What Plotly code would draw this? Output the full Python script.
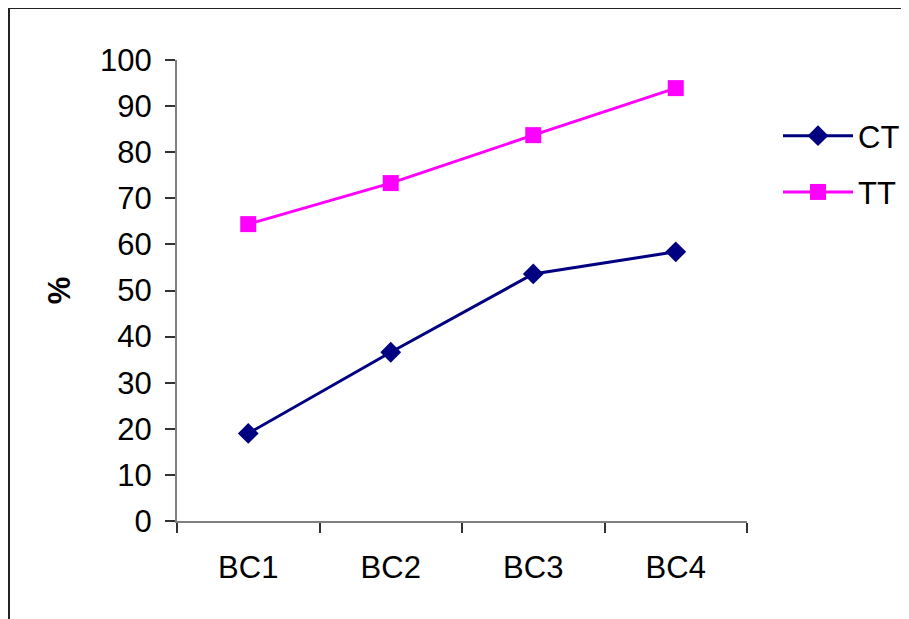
import plotly.graph_objects as go

categories = ["BC1", "BC2", "BC3", "BC4"]
ct_values = [19.0, 36.6, 53.6, 58.4]
tt_values = [64.4, 73.3, 83.7, 93.9]
y_ticks = list(range(0, 101, 10))

# page body has an 8px margin, so figure pixel = screen pixel - 8
OFF = 8
W, H = 909, 619
L, T = 177 - OFF, 60 - OFF
PR, PB = 747 - OFF, 521 - OFF
R, B = W - PR, H - PB
pw, ph = PR - L, PB - T

fig = go.Figure()
fig.add_trace(go.Scatter(
    x=categories, y=ct_values, name="CT", mode="lines+markers",
    line=dict(color="#000080", width=3),
    marker=dict(symbol="diamond", size=16, color="#000080"),
    legendgroup="ct",
))
fig.add_trace(go.Scatter(
    x=categories, y=tt_values, name="TT", mode="lines+markers",
    line=dict(color="#FF00FF", width=3),
    marker=dict(symbol="square", size=16, color="#FF00FF"),
    legendgroup="tt",
))

font = dict(family="Liberation Sans, Arial, sans-serif", size=31, color="black")

fig.update_layout(
    width=W, height=H,
    margin=dict(l=L, r=R, t=T, b=B, autoexpand=False),
    paper_bgcolor="white", plot_bgcolor="white",
    font=font,
    showlegend=True,
    legend=dict(x=(784 - OFF - 6 - L) / pw, y=(PB - (112 - OFF - 3)) / ph,
                xanchor="left", yanchor="top",
                font=font, itemwidth=70, tracegroupgap=13, bgcolor="rgba(0,0,0,0)"),
    xaxis=dict(
        type="category", range=[-0.5, 3.5], showgrid=False, zeroline=False,
        showline=True, linecolor="#808080", linewidth=2,
        ticks="outside", tickson="boundaries", ticklen=10, tickcolor="#333333", tickwidth=2,
        tickfont=font, ticklabelstandoff=18,
    ),
    yaxis=dict(
        range=[0, 100], tickvals=y_ticks, showgrid=False, zeroline=False,
        showline=True, linecolor="#808080", linewidth=2,
        ticks="outside", ticklen=10, tickcolor="#333333", tickwidth=2,
        tickfont=font, ticklabelstandoff=7,
        title=dict(text="<b>%</b>", font=font, standoff=20),
    ),
    shapes=[dict(
        type="rect", xref="paper", yref="paper",
        x0=(1 - L) / pw, x1=(W + 20 - L) / pw,
        y0=(PB - (H + 20)) / ph, y1=(PB - 0) / ph,
        line=dict(color="#222222", width=2), fillcolor="rgba(0,0,0,0)", layer="below",
    )],
)

fig.write_html("out.html")
